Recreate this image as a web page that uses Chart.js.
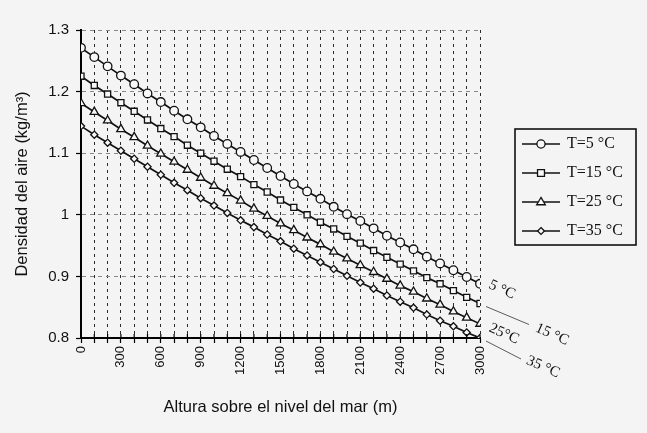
<!DOCTYPE html>
<html><head><meta charset="utf-8">
<script src="https://cdn.jsdelivr.net/npm/chart.js@4/dist/chart.umd.min.js"></script>
<style>html,body{margin:0;padding:0;background:#f4f4f4;}#wrap{width:647px;height:433px;}</style>
</head><body><div id="wrap"><canvas id="c" width="647" height="433"></canvas></div>
<script>
const altitudes = [0,100,200,300,400,500,600,700,800,900,1000,1100,1200,1300,1400,1500,1600,1700,1800,1900,2000,2100,2200,2300,2400,2500,2600,2700,2800,2900,3000];
const seriesNames = ['T=5 °C','T=15 °C','T=25 °C','T=35 °C'];
const endLabels = ['5 °C','15 °C','25°C','35 °C'];
const t5 = [1.271,1.256,1.241,1.226,1.212,1.197,1.183,1.169,1.155,1.142,1.128,1.115,1.102,1.089,1.076,1.063,1.050,1.038,1.026,1.013,1.001,0.990,0.978,0.966,0.955,0.944,0.932,0.921,0.910,0.899,0.888];
const t15 = [1.225,1.210,1.196,1.182,1.168,1.154,1.140,1.127,1.113,1.100,1.087,1.074,1.062,1.049,1.037,1.024,1.012,1.000,0.988,0.977,0.965,0.954,0.942,0.931,0.920,0.909,0.898,0.888,0.877,0.866,0.856];
const t25 = [1.181,1.167,1.153,1.139,1.126,1.112,1.099,1.086,1.073,1.060,1.047,1.035,1.023,1.010,0.998,0.986,0.975,0.963,0.952,0.940,0.929,0.918,0.907,0.896,0.885,0.875,0.864,0.854,0.843,0.833,0.823];
const t35 = [1.144,1.130,1.117,1.104,1.091,1.078,1.065,1.052,1.040,1.027,1.015,1.003,0.991,0.980,0.968,0.957,0.945,0.934,0.923,0.912,0.901,0.890,0.880,0.869,0.859,0.849,0.838,0.828,0.819,0.809,0.800];
const xTickLabels = ['0','300','600','900','1200','1500','1800','2100','2400','2700','3000'];
const yTickLabels = ['0.8','0.9','1','1.1','1.2','1.3'];

const allSeries = [t5, t15, t25, t35];
const styles = [
  {pointStyle:'circle', r:4.3},
  {pointStyle:'rect', r:4.3},
  {pointStyle:'triangle', r:4.8},
  {pointStyle:'rectRot', r:3.6}
];

const datasets = allSeries.map((s, i) => ({
  label: seriesNames[i],
  data: s.map((v, k) => ({x: altitudes[k], y: v})),
  borderColor: '#111',
  borderWidth: 1.7,
  pointStyle: styles[i].pointStyle,
  pointRadius: styles[i].r,
  pointBorderWidth: 1.3,
  pointBorderColor: '#111',
  pointBackgroundColor: '#f8f8f8',
  tension: 0,
  fill: false
}));

function marker(ctx, style, x, y, r) {
  ctx.beginPath();
  if (style === 'circle') { ctx.arc(x, y, r, 0, Math.PI*2); }
  else if (style === 'rect') { const s = r*0.85; ctx.rect(x-s, y-s, 2*s, 2*s); }
  else if (style === 'triangle') {
    ctx.moveTo(x, y - r); ctx.lineTo(x + r*0.95, y + r*0.6); ctx.lineTo(x - r*0.95, y + r*0.6); ctx.closePath();
  } else { ctx.moveTo(x, y - r); ctx.lineTo(x + r, y); ctx.lineTo(x, y + r); ctx.lineTo(x - r, y); ctx.closePath(); }
  ctx.fillStyle = '#f8f8f8'; ctx.fill();
  ctx.lineWidth = 1.3; ctx.strokeStyle = '#111'; ctx.stroke();
}

const bgPlugin = {
  id: 'bg',
  beforeDraw(chart) {
    const ctx = chart.ctx; ctx.save(); ctx.fillStyle = '#f4f4f4';
    ctx.fillRect(0, 0, chart.width, chart.height); ctx.restore();
  }
};

const extraPlugin = {
  id: 'extra',
  afterDraw(chart) {
    const ctx = chart.ctx;
    ctx.save();
    const xs = chart.scales.x, ys = chart.scales.y;
    ctx.strokeStyle = '#000'; ctx.lineWidth = 1.2; ctx.setLineDash([]);
    xs.ticks.forEach(t => {
      const px = xs.getPixelForValue(t.value);
      ctx.beginPath(); ctx.moveTo(px, ys.bottom); ctx.lineTo(px, ys.bottom - 4); ctx.stroke();
    });
    const offs = [
      {tx:22, ty:6, lead:null},
      {tx:72, ty:31, lead:[6,3,49,21]},
      {tx:24, ty:10, lead:null},
      {tx:63, ty:29, lead:[6,3,41,21]}
    ];
    ctx.font = '15px "Liberation Serif"';
    ctx.fillStyle = '#111';
    chart.data.datasets.forEach((ds, i) => {
      const meta = chart.getDatasetMeta(i);
      const p = meta.data[meta.data.length - 1];
      const o = offs[i];
      if (o.lead) {
        ctx.lineWidth = 0.8; ctx.strokeStyle = '#333';
        ctx.beginPath(); ctx.moveTo(p.x + o.lead[0], p.y + o.lead[1]);
        ctx.lineTo(p.x + o.lead[2], p.y + o.lead[3]); ctx.stroke();
      }
      ctx.save();
      ctx.translate(p.x + o.tx, p.y + o.ty);
      ctx.rotate(0.42);
      ctx.textAlign = 'center'; ctx.textBaseline = 'middle';
      ctx.fillText(endLabels[i], 0, 0);
      ctx.restore();
    });
    const lx = 515, ly = 129, lw = 121, lh = 116;
    ctx.lineWidth = 1.6; ctx.strokeStyle = '#111';
    ctx.strokeRect(lx, ly, lw, lh);
    ctx.font = '16px "Liberation Serif"';
    ctx.textAlign = 'left'; ctx.textBaseline = 'middle';
    chart.data.datasets.forEach((ds, i) => {
      const y = ly + 15 + i * 29;
      ctx.lineWidth = 1.3; ctx.strokeStyle = '#111';
      ctx.beginPath(); ctx.moveTo(lx + 7, y); ctx.lineTo(lx + 45, y); ctx.stroke();
      marker(ctx, styles[i].pointStyle, lx + 26, y, styles[i].r * 0.95);
      ctx.fillStyle = '#111';
      ctx.fillText(ds.label, lx + 52, y);
    });
    ctx.restore();
  }
};

new Chart(document.getElementById('c'), {
  type: 'line',
  data: { datasets },
  options: {
    responsive: false,
    animation: false,
    devicePixelRatio: 1,
    layout: { padding: { top: 30, right: 167, left: 0, bottom: 0 } },
    plugins: { legend: { display: false }, tooltip: { enabled: false } },
    scales: {
      x: {
        type: 'linear', min: 0, max: 3000,
        afterFit(s) { s.height = 95; },
        ticks: {
          stepSize: 100, autoSkip: false, minRotation: 90, maxRotation: 90,
          padding: 3, color: '#111',
          font: { family: '"Liberation Sans"', size: 13 },
          callback: (v) => xTickLabels.includes(String(v)) ? String(v) : ''
        },
        grid: { color: '#2a2a2a', lineWidth: 1, tickLength: 5, tickColor: '#000', tickWidth: 1.2 },
        border: { display: true, color: '#000', width: 2, dash: [3, 4] },
        title: { display: true, text: 'Altura sobre el nivel del mar (m)', color: '#111',
          font: { family: '"Liberation Sans"', size: 16.5 }, padding: { top: 0, bottom: 16 } }
      },
      y: {
        min: 0.8, max: 1.3,
        afterFit(s) { s.width = 81; },
        ticks: {
          stepSize: 0.1, padding: 7, color: '#111',
          font: { family: '"Liberation Sans"', size: 15 },
          callback: (v, idx) => yTickLabels[idx]
        },
        grid: { color: '#888', lineWidth: 1, tickLength: 5, tickColor: '#000', tickWidth: 1.2 },
        border: { display: true, color: '#000', width: 2, dash: [4, 4] },
        title: { display: true, text: 'Densidad del aire (kg/m³)', color: '#111',
          font: { family: '"Liberation Sans"', size: 16.5 }, padding: { top: 13, bottom: 0 } }
      }
    }
  },
  plugins: [bgPlugin, extraPlugin]
});
</script></body></html>
